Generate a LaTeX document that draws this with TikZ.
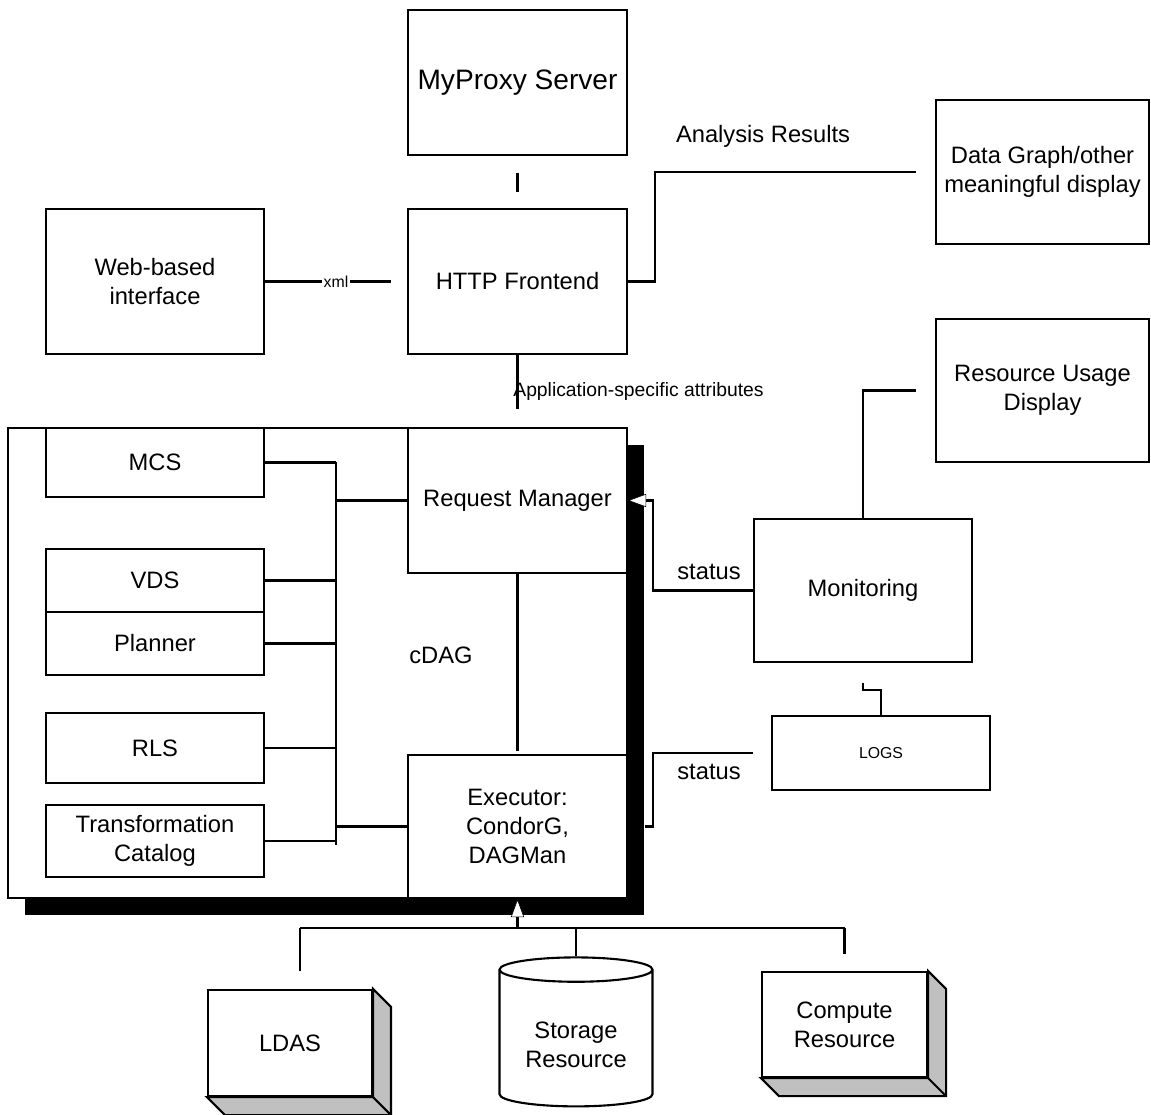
\documentclass[tikz,border=0pt]{standalone}
\usepackage{fontspec}
\setmainfont{Liberation Sans}
\usetikzlibrary{arrows.meta,shapes.geometric,shadows}
\definecolor{sidegray}{RGB}{192,192,192}
\tikzset{
  box/.style={draw, line width=1.2pt, fill=white, inner sep=0pt, align=center,
    font=\fontsize{13.5}{16.4}\selectfont},
  wire/.style={line width=1.2pt},
  lbl/.style={font=\fontsize{13.5}{16.4}\selectfont, inner sep=0pt, align=center},
  smalllbl/.style={font=\fontsize{9}{11}\selectfont, inner sep=1pt},
  whitetip/.style={-{Triangle[length=0.36cm, width=0.26cm, fill=white, line width=0.3pt]}}
}
\begin{document}
\begin{tikzpicture}[x=0.02cm, y=-0.02cm]
  \useasboundingbox (0,0) rectangle (1151,1114);
  % nodes
  \node[box, minimum width=4.38cm, minimum height=2.9cm, font=\fontsize{16}{19}\selectfont] (proxy) at (517.5,82.5) {MyProxy Server};
  \node[box, minimum width=4.38cm, minimum height=2.9cm] (http) at (517.5,281.5) {HTTP Frontend};
  \node[box, minimum width=4.36cm, minimum height=2.9cm] (web) at (155,281.5) {Web-based\\interface};
  \node[box, minimum width=4.26cm, minimum height=2.88cm] (datagraph) at (1042.5,172) {Data Graph/other\\meaningful display};
  \node[box, minimum width=4.26cm, minimum height=2.86cm] (usage) at (1042.5,390.5) {Resource Usage\\Display};
  \node[box, minimum width=12.38cm, minimum height=9.4cm,
        drop shadow={shadow xshift=0.34cm, shadow yshift=-0.34cm, opacity=1, fill=black}] (cdag) at (317.5,663) {};
  \node[lbl] (cdaglbl) at (441,655) {cDAG};
  \node[box, minimum width=4.38cm, minimum height=2.9cm] (reqmgr) at (517.5,500.5) {Request Manager};
  \node[box, minimum width=4.38cm, minimum height=2.86cm] (executor) at (517.5,826.5) {Executor:\\CondorG,\\DAGMan};
  \node[box, minimum width=4.36cm, minimum height=1.38cm] (mcs) at (155,462.5) {MCS};
  \node[box, minimum width=4.36cm, minimum height=1.26cm] (vds) at (155,580.5) {VDS};
  \node[box, minimum width=4.36cm, minimum height=1.26cm] (planner) at (155,643.5) {Planner};
  \node[box, minimum width=4.36cm, minimum height=1.4cm] (rls) at (155,748) {RLS};
  \node[box, minimum width=4.36cm, minimum height=1.44cm] (tc) at (155,841) {Transformation\\Catalog};
  \node[box, minimum width=4.36cm, minimum height=2.86cm] (monitor) at (863,590.5) {Monitoring};
  \node[box, minimum width=4.36cm, minimum height=1.48cm, font=\fontsize{9}{11}\selectfont] (logs) at (881,753) {LOGS};
  \node[box, minimum width=3.28cm, minimum height=2.12cm] (ldas) at (290,1043) {LDAS};
  \node[box, minimum width=3.3cm, minimum height=2.1cm] (compute) at (844.5,1024.5) {Compute\\Resource};
  \node[box, cylinder, shape border rotate=90, aspect=0.24, minimum width=3.06cm, minimum height=2.98cm] (storage) at (576,1038.5)
    {\raisebox{-0.18cm}[\height][\depth]{\begin{tabular}{@{}c@{}}Storage\\Resource\end{tabular}}};
  % 3d sides
  \filldraw[wire, fill=sidegray] (ldas.north east) -- ++(18,18) -- ([shift={(18,18)}]ldas.south east)
    -- ([shift={(18,18)}]ldas.south west) -- (ldas.south west) -- (ldas.south east) -- cycle;
  \draw[wire] (ldas.south east) -- ++(18,18);
  \filldraw[wire, fill=sidegray] (compute.north east) -- ++(18,18) -- ([shift={(18,18)}]compute.south east)
    -- ([shift={(18,18)}]compute.south west) -- (compute.south west) -- (compute.south east) -- cycle;
  \draw[wire] (compute.south east) -- ++(18,18);
  % labels
  \node[lbl] (analysis) at (763,136) {Analysis Results};
  \node[lbl] (status1) at (709,572) {status};
  \node[lbl] (status2) at (709,772) {status};
  \node[lbl, anchor=west, font=\fontsize{11}{13}\selectfont] (attrs) at (513,392) {Application-specific attributes};
  % lines
  \draw[wire, shorten <=0.34cm, shorten >=0.32cm] (proxy) -- (http);
  \draw[wire, shorten >=0.32cm] (web) -- node[smalllbl, fill=white] (xml) {xml} (http);
  \draw[wire, shorten >=0.38cm] (http.east) -- ++(27,0) |- (datagraph.west);
  \draw[wire, shorten >=0.36cm] (http) -- (reqmgr);
  \coordinate (bustop) at (336,462);
  \coordinate (busbot) at (336,845);
  \draw[wire] (bustop) -- (busbot);
  \foreach \b in {mcs,vds,planner,rls,tc}
    \draw[wire] (\b.east) -- (\b.east -| bustop);
  \draw[wire] (reqmgr.west -| bustop) -- (reqmgr.west);
  \draw[wire] (executor.west -| bustop) -- (executor.west);
  \draw[wire, shorten >=0.06cm] (reqmgr) -- (executor);
  \draw[wire, whitetip] (monitor.west) -- ++(-100,0) |- (reqmgr.east);
  \draw[wire, shorten >=0.38cm] (monitor.north) |- (usage.west);
  \draw[wire, shorten >=0.4cm] (logs.north) -- ++(0,-25) -| (monitor.south);
  \draw[wire, shorten <=0.36cm, shorten >=0.34cm] (logs.west) -- ++(-118,0) |- (executor.east);
  % feeds
  \coordinate (feed) at (517,928);
  \coordinate (ldastop) at ([xshift=0.2cm]ldas.north);
  \draw[wire] (ldastop |- feed) -- (compute.north |- feed);
  \draw[wire, whitetip] (executor.south |- feed) -- (executor.south);
  \draw[wire, shorten >=0.36cm] (ldastop |- feed) -- (ldastop);
  \draw[wire] (storage.north |- feed) -- (storage.north);
  \draw[wire, shorten >=0.34cm] (compute.north |- feed) -- (compute.north);
\end{tikzpicture}
\end{document}
